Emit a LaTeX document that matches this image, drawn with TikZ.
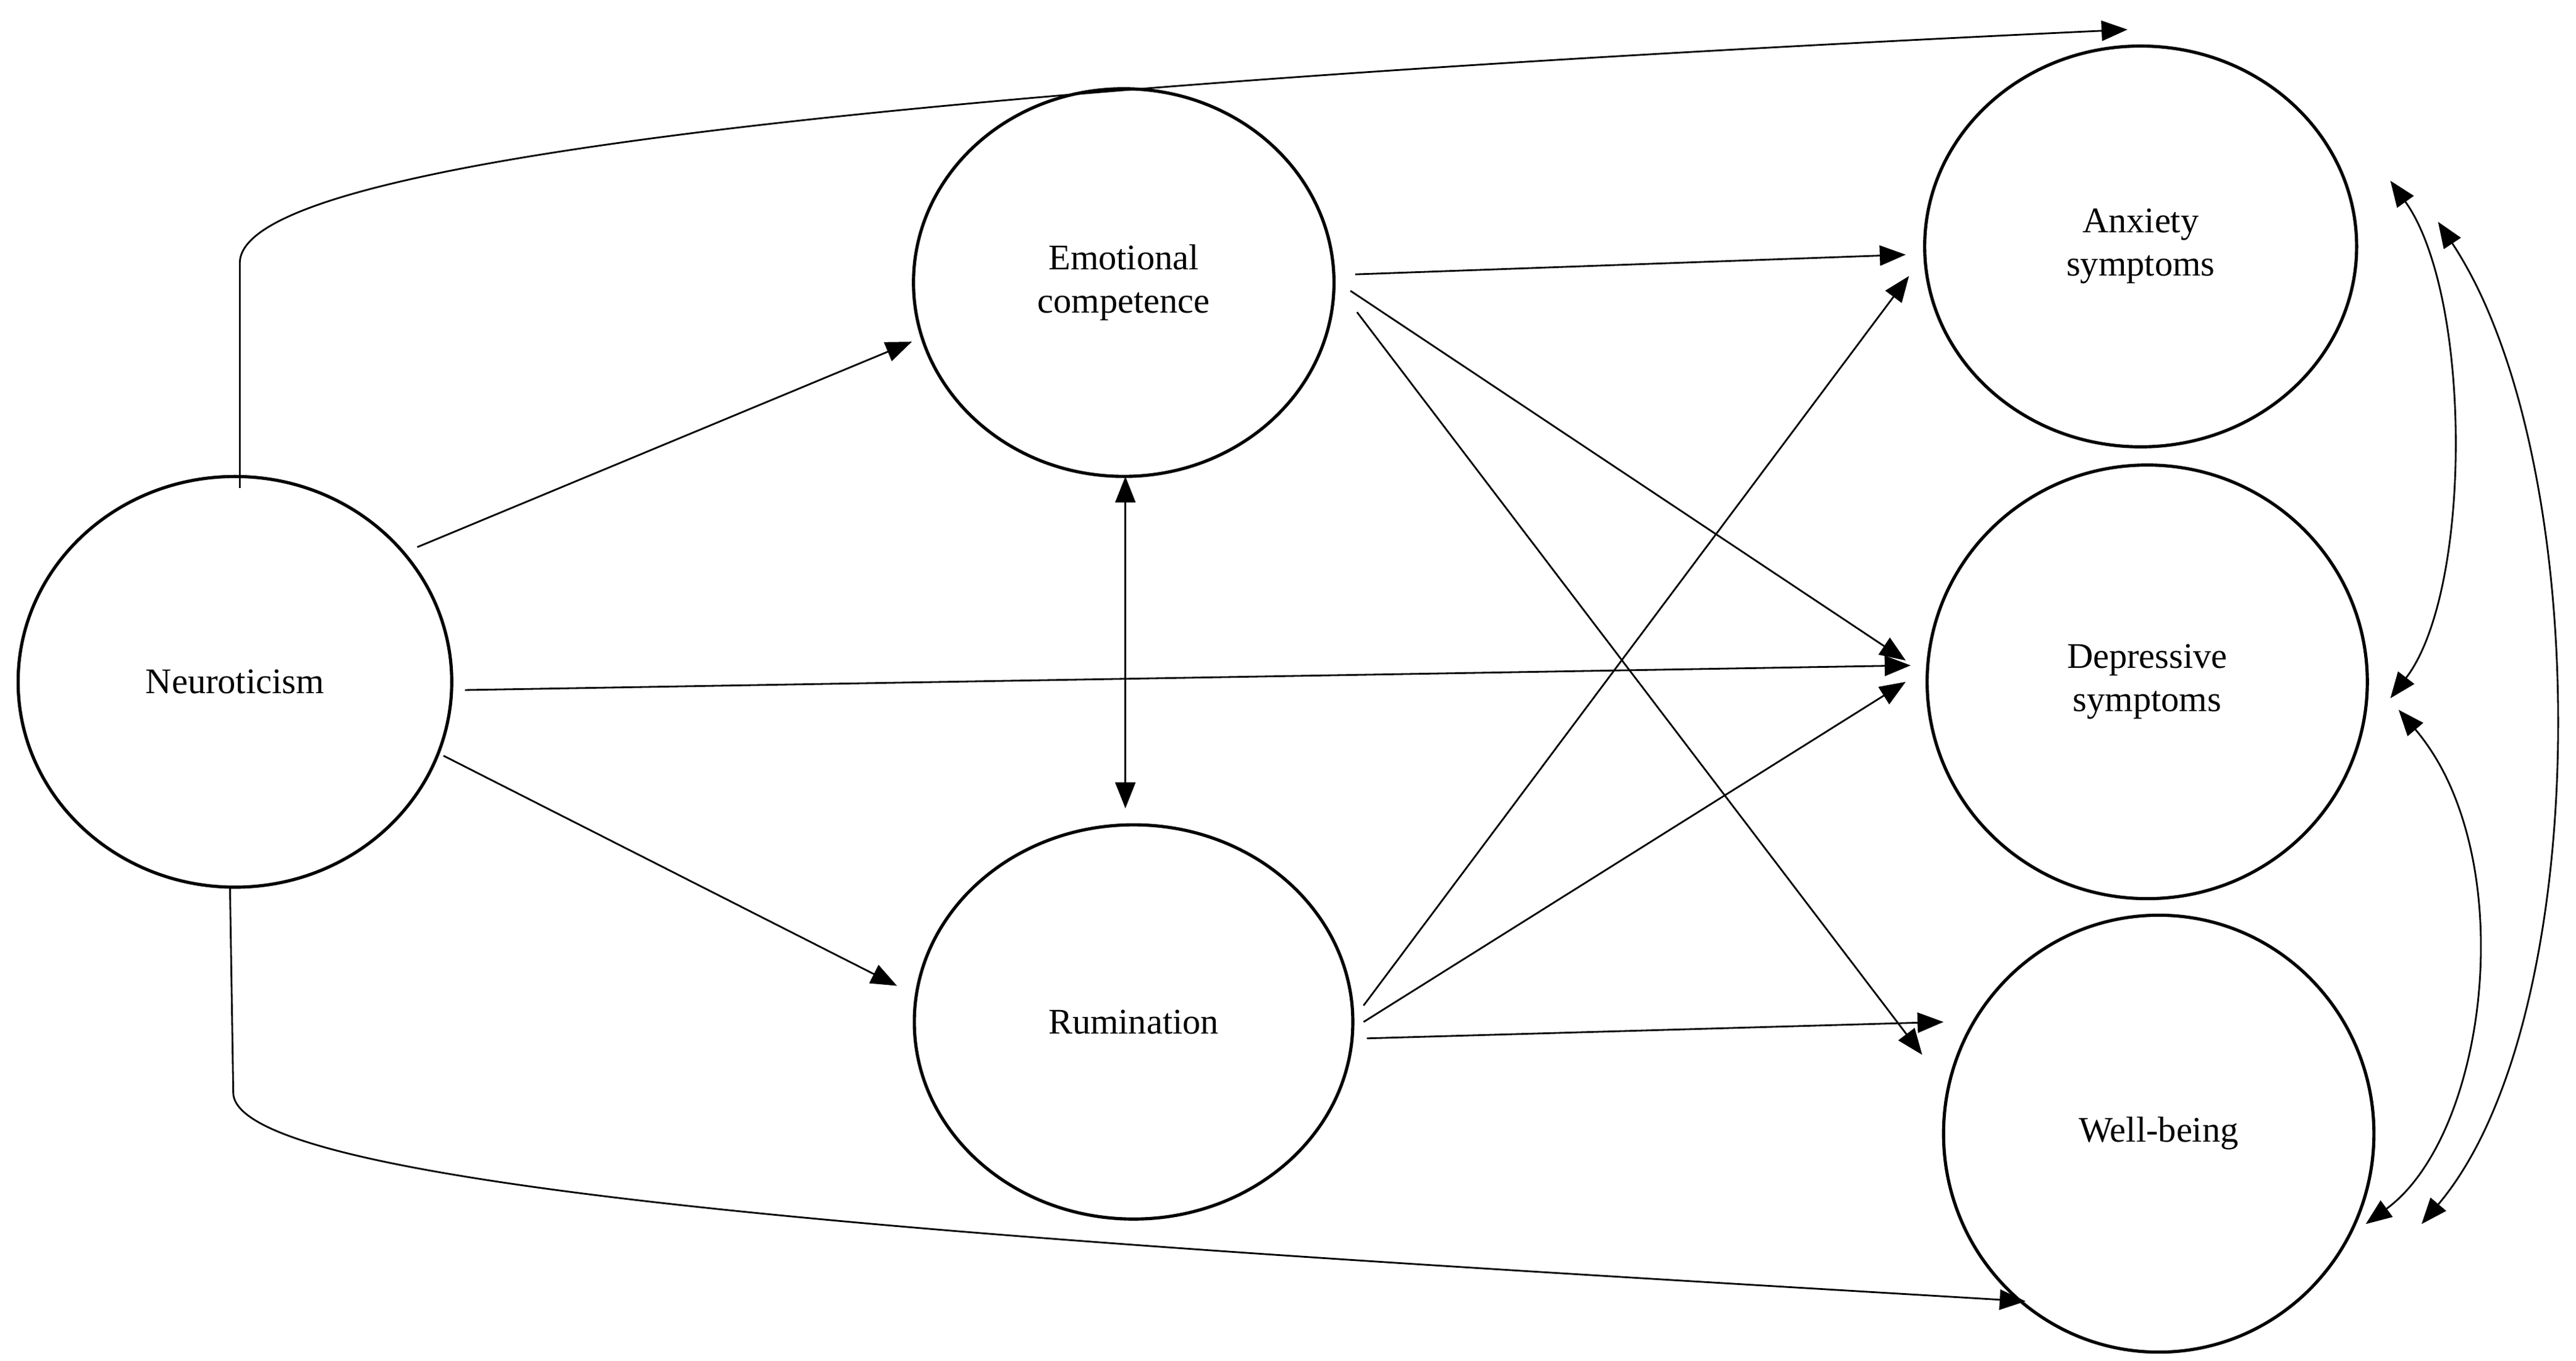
\documentclass[tikz,border=0pt]{standalone}
\usepackage{fontspec}
\setmainfont{Liberation Serif}
\usetikzlibrary{arrows.meta,shapes.geometric}
\begin{document}
\begin{tikzpicture}[x=0.02cm,y=-0.02cm,
  lat/.style={draw,ellipse,line width=1.1pt,font=\fontsize{12.5}{15}\selectfont,align=center,inner sep=0pt},
  ar/.style={line width=0.6pt,-{Triangle[length=9pt,width=7pt]}},
  dar/.style={line width=0.6pt,{Triangle[length=9pt,width=7pt]}-{Triangle[length=9pt,width=7pt]}}]
\useasboundingbox (0,0) rectangle (1568,828);
\node[lat,minimum width=5.28cm,minimum height=5cm] (neu) at (143,415) {Neuroticism};
\node[lat,minimum width=5.12cm,minimum height=4.72cm] (ec) at (684,172) {Emotional\\competence};
\node[lat,minimum width=5.34cm,minimum height=4.8cm] (rum) at (690,622) {Rumination};
\node[lat,minimum width=5.26cm,minimum height=4.88cm] (anx) at (1303,150) {Anxiety\\symptoms};
\node[lat,minimum width=5.36cm,minimum height=5.28cm] (dep) at (1307,415) {Depressive\\symptoms};
\node[lat,minimum width=5.24cm,minimum height=5.32cm] (wb) at (1314,690) {Well-being};
% endpoints
\coordinate (n1) at (146,297); \coordinate (a1) at (1295,18);
\coordinate (n2) at (254,333); \coordinate (e2) at (555,208);
\coordinate (n3) at (283,420); \coordinate (d3) at (1163,405);
\coordinate (n4) at (270,460); \coordinate (r4) at (546,600);
\coordinate (n5) at (140,540); \coordinate (w5) at (1233,792);
\coordinate (e6) at (825,167); \coordinate (a6) at (1160,155);
\coordinate (e7) at (822,177); \coordinate (d7) at (1160,402);
\coordinate (e8) at (826,190); \coordinate (w8) at (1170,642);
\coordinate (e9) at (685,290); \coordinate (r9) at (685,492);
\coordinate (r10) at (830,612); \coordinate (a10) at (1162,168);
\coordinate (r11) at (830,622); \coordinate (d11) at (1160,415);
\coordinate (r12) at (832,632); \coordinate (w12) at (1183,622);
\coordinate (ra1) at (1455,110); \coordinate (rd1) at (1455,425);
\coordinate (ra2) at (1484,135); \coordinate (rw2) at (1474,745);
\coordinate (rd3) at (1460,432); \coordinate (rw3) at (1440,745);
\draw[ar] (n1) -- (146,160) .. controls (146,110) and (400,60) .. (a1);
\draw[ar] (n2) -- (e2);
\draw[ar] (n3) -- (d3);
\draw[ar] (n4) -- (r4);
\draw[ar] (n5) -- (142,665) .. controls (142,730) and (700,760) .. (w5);
\draw[ar] (e6) -- (a6);
\draw[ar] (e7) -- (d7);
\draw[ar] (e8) -- (w8);
\draw[dar] (e9) -- (r9);
\draw[ar] (r10) -- (a10);
\draw[ar] (r11) -- (d11);
\draw[ar] (r12) -- (w12);
\draw[dar] (ra1) .. controls (1505,180) and (1505,360) .. (rd1);
\draw[dar] (ra2) .. controls (1580,280) and (1580,620) .. (rw2);
\draw[dar] (rd3) .. controls (1535,520) and (1515,690) .. (rw3);
\end{tikzpicture}
\end{document}
